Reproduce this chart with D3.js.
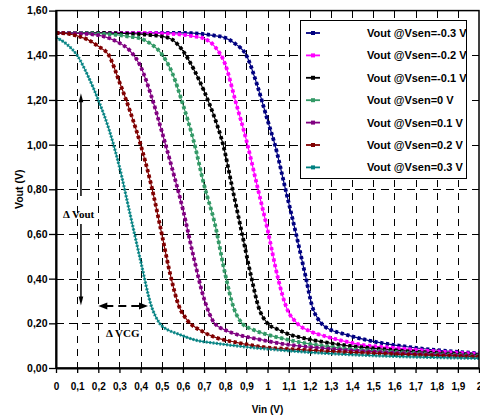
<!DOCTYPE html>
<html>
<head>
<meta charset="utf-8">
<script src="https://cdn.jsdelivr.net/npm/d3@7"></script>
<style>
  body { margin: 0; background: #fff; }
  svg { display: block; font-family: "Liberation Sans", Arial, sans-serif; }
  .axis text { font-weight: bold; fill: #000; }
</style>
</head>
<body>
<svg id="viz"></svg>
<script>
// chart values: [Vin, Vout] in volts
const vsenM03 = [[0,1.50],[0.4,1.50],[0.6,1.50],[0.7,1.495],[0.75,1.488],[0.8,1.478],[0.85,1.45],[0.9,1.40],[0.95,1.27],[1.0,1.11],[1.035,1.00],[1.085,0.80],[1.135,0.60],[1.18,0.41],[1.21,0.28],[1.255,0.20],[1.3,0.17],[1.35,0.155],[1.47,0.125],[1.66,0.095],[1.86,0.075],[2.0,0.066]];
const vsenM02 = [[0,1.50],[0.4,1.50],[0.5,1.498],[0.6,1.492],[0.65,1.485],[0.7,1.475],[0.75,1.44],[0.8,1.36],[0.85,1.19],[0.9,1.02],[0.95,0.82],[1.0,0.62],[1.05,0.40],[1.09,0.27],[1.14,0.20],[1.2,0.165],[1.27,0.143],[1.34,0.125],[1.44,0.105],[1.6,0.09],[1.72,0.08],[2.0,0.063]];
const vsenM01 = [[0,1.50],[0.2,1.50],[0.3,1.498],[0.4,1.495],[0.45,1.49],[0.5,1.485],[0.55,1.47],[0.6,1.42],[0.65,1.34],[0.7,1.24],[0.75,1.12],[0.79,1.00],[0.835,0.80],[0.88,0.60],[0.925,0.40],[0.957,0.275],[1.0,0.20],[1.05,0.172],[1.09,0.155],[1.2,0.128],[1.34,0.105],[1.6,0.08],[2.0,0.058]];
const vsen00 = [[0,1.50],[0.1,1.50],[0.2,1.497],[0.3,1.49],[0.35,1.483],[0.4,1.475],[0.45,1.45],[0.5,1.405],[0.55,1.32],[0.6,1.18],[0.65,1.02],[0.7,0.82],[0.75,0.65],[0.8,0.42],[0.84,0.27],[0.88,0.20],[0.93,0.172],[0.98,0.155],[1.08,0.13],[1.185,0.11],[1.34,0.09],[1.6,0.072],[2.0,0.055]];
const vsenP01 = [[0,1.50],[0.1,1.498],[0.2,1.49],[0.25,1.477],[0.3,1.455],[0.35,1.42],[0.4,1.35],[0.45,1.22],[0.5,1.06],[0.55,0.89],[0.6,0.71],[0.65,0.50],[0.7,0.31],[0.75,0.20],[0.8,0.17],[0.84,0.155],[0.95,0.13],[1.06,0.11],[1.34,0.082],[1.6,0.068],[2.0,0.052]];
const vsenP02 = [[0,1.50],[0.05,1.497],[0.1,1.487],[0.15,1.47],[0.2,1.44],[0.25,1.40],[0.3,1.28],[0.35,1.15],[0.4,1.00],[0.45,0.82],[0.5,0.60],[0.54,0.42],[0.58,0.28],[0.62,0.215],[0.69,0.165],[0.75,0.138],[0.85,0.115],[0.97,0.095],[1.15,0.082],[1.34,0.072],[1.6,0.062],[2.0,0.05]];
const vsenP03 = [[0,1.48],[0.05,1.45],[0.1,1.40],[0.15,1.31],[0.2,1.20],[0.25,1.07],[0.3,0.90],[0.35,0.69],[0.4,0.48],[0.45,0.28],[0.49,0.20],[0.53,0.17],[0.57,0.155],[0.66,0.125],[0.76,0.11],[0.9,0.094],[1.1,0.077],[1.34,0.062],[1.6,0.052],[2.0,0.043]];

const seriesNames = ["Vout @Vsen=-0.3 V", "Vout @Vsen=-0.2 V", "Vout @Vsen=-0.1 V", "Vout @Vsen=0 V",
                     "Vout @Vsen=0.1 V", "Vout @Vsen=0.2 V", "Vout @Vsen=0.3 V"];
const seriesData = [vsenM03, vsenM02, vsenM01, vsen00, vsenP01, vsenP02, vsenP03];
const seriesColors = ["#000080", "#ff00ff", "#000000", "#339966", "#800080", "#800000", "#008080"];

const xTicks = d3.range(0, 21).map(i => i / 10);
const xTickLabels = ["0","0,1","0,2","0,3","0,4","0,5","0,6","0,7","0,8","0,9","1",
                     "1,1","1,2","1,3","1,4","1,5","1,6","1,7","1,8","1,9","2"];
const yTicks = [0, 0.2, 0.4, 0.6, 0.8, 1.0, 1.2, 1.4, 1.6];
const yTickLabels = ["0,00","0,20","0,40","0,60","0,80","1,00","1,20","1,40","1,60"];

const width = 480, height = 416;
const svg = d3.select("#viz").attr("width", width).attr("height", height);

const x = d3.scaleLinear().domain([0, 2]).range([56, 479]);
const y = d3.scaleLinear().domain([0, 1.6]).range([368, 10.6]);

// dashed grid
const grid = svg.append("g").attr("stroke", "#000").attr("stroke-width", 1)
  .attr("stroke-dasharray", "7.5,5.5").attr("shape-rendering", "crispEdges");
grid.selectAll(".vg").data(xTicks.slice(1, -1)).enter().append("line")
  .attr("x1", d => Math.round(x(d)) + 0.5).attr("x2", d => Math.round(x(d)) + 0.5)
  .attr("y1", y(1.6)).attr("y2", y(0));
grid.selectAll(".hg").data(yTicks.slice(1, -1)).enter().append("line")
  .attr("y1", d => Math.round(y(d)) + 0.5).attr("y2", d => Math.round(y(d)) + 0.5)
  .attr("x1", x(0)).attr("x2", x(2));

// curves: thin line plus a thick dashed stroke standing in for the dense markers
const line = d3.line().x(d => x(d[0])).y(d => y(d[1])).curve(d3.curveMonotoneX);
const curves = svg.append("g").attr("fill", "none");
seriesData.forEach((data, i) => {
  const last = i === seriesData.length - 1;
  curves.append("path").attr("d", line(data))
    .attr("stroke", seriesColors[i]).attr("stroke-width", 1.2);
  curves.append("path").attr("d", line(data))
    .attr("stroke", seriesColors[i])
    .attr("stroke-width", last ? 3.2 : 3.8)
    .attr("stroke-dasharray", last ? "1.8,1.6" : "3.2,2.6")
    .attr("opacity", last ? 0.85 : 1);
});

// frame
svg.append("rect").attr("x", x(0)).attr("y", y(1.6))
  .attr("width", x(2) - x(0)).attr("height", y(0) - y(1.6))
  .attr("fill", "none").attr("stroke", "#000").attr("stroke-width", 1.5);

// axes
const xAxis = svg.append("g").attr("class", "axis")
  .attr("transform", `translate(0,${y(0)})`)
  .call(d3.axisBottom(x).tickValues(xTicks).tickFormat((d, i) => xTickLabels[i])
    .tickSizeInner(5).tickSizeOuter(0).tickPadding(10));
xAxis.selectAll("text").attr("font-size", 10);

const yAxis = svg.append("g").attr("class", "axis")
  .attr("transform", `translate(${x(0)},0)`)
  .call(d3.axisLeft(y).tickValues(yTicks).tickFormat((d, i) => yTickLabels[i])
    .tickSizeInner(7).tickSizeOuter(0).tickPadding(1.5));
yAxis.selectAll("text").attr("font-size", 10.5);

[xAxis, yAxis].forEach(a => {
  a.select(".domain").attr("stroke-width", 2);
  a.selectAll(".tick line").attr("stroke-width", 1.3);
  a.attr("font-family", null);
});

svg.append("text").attr("x", (x(0) + x(2)) / 2).attr("y", 413)
  .attr("text-anchor", "middle").attr("font-size", 10).attr("font-weight", "bold")
  .text("Vin (V)");
svg.append("text").attr("transform", `translate(23,${(y(0) + y(1.6)) / 2}) rotate(-90)`)
  .attr("text-anchor", "middle").attr("font-size", 10.5).attr("font-weight", "bold")
  .text("Vout (V)");

// annotations (Delta Vout, Delta VCG)
const ann = svg.append("g").attr("fill", "#000").attr("stroke", "#000");
const ax = x(0.118), aTop = y(1.23), aBot = y(0.28);
ann.append("line").attr("x1", ax).attr("x2", ax).attr("y1", aTop + 6).attr("y2", y(0.77)).attr("stroke-width", 1.5);
ann.append("line").attr("x1", ax).attr("x2", ax).attr("y1", y(0.645)).attr("y2", aBot - 6).attr("stroke-width", 1.5);
ann.append("path").attr("stroke", "none")
  .attr("d", `M${ax},${aTop}L${ax - 2.3},${aTop + 9}L${ax + 2.3},${aTop + 9}Z`);
ann.append("path").attr("stroke", "none")
  .attr("d", `M${ax},${aBot}L${ax - 2.3},${aBot - 9}L${ax + 2.3},${aBot - 9}Z`);
svg.append("text").attr("x", 63).attr("y", y(0.69) + 4)
  .attr("font-family", "'Liberation Serif', 'Times New Roman', serif")
  .attr("font-weight", "bold").attr("font-size", 11).text("\u0394 Vout");

const hx1 = x(0.2), hx2 = x(0.435), hy = y(0.278);
ann.append("line").attr("x1", hx1 + 7).attr("x2", hx2 - 7).attr("y1", hy).attr("y2", hy)
  .attr("stroke-width", 2).attr("stroke-dasharray", "8,5");
ann.append("path").attr("stroke", "none")
  .attr("d", `M${hx1},${hy}L${hx1 + 9},${hy - 3.5}L${hx1 + 9},${hy + 3.5}Z`);
ann.append("path").attr("stroke", "none")
  .attr("d", `M${hx2},${hy}L${hx2 - 9},${hy - 3.5}L${hx2 - 9},${hy + 3.5}Z`);
svg.append("text").attr("x", 106).attr("y", y(0.138))
  .attr("font-family", "'Liberation Serif', 'Times New Roman', serif")
  .attr("font-weight", "bold").attr("font-size", 11).text("\u0394 VCG");

// legend
const legend = svg.append("g");
legend.append("rect").attr("x", 300.5).attr("y", 20.5).attr("width", 166).attr("height", 158)
  .attr("fill", "#fff").attr("stroke", "#000").attr("stroke-width", 1);
seriesNames.forEach((name, i) => {
  const ly = 33 + i * 22.4;
  legend.append("line").attr("x1", 306).attr("x2", 320).attr("y1", ly).attr("y2", ly)
    .attr("stroke", seriesColors[i]).attr("stroke-width", 1.8);
  legend.append("rect").attr("x", 311).attr("y", ly - 2).attr("width", 4).attr("height", 4)
    .attr("fill", seriesColors[i]);
  legend.append("text").attr("x", 367).attr("y", ly + 4)
    .attr("font-size", 11).attr("font-weight", "bold").text(name);
});
</script>
</body>
</html>
